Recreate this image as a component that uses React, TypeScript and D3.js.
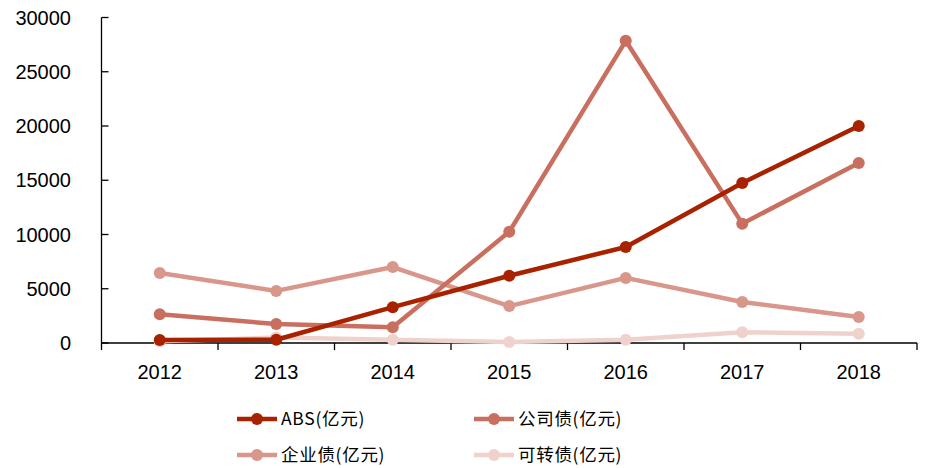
import React from "react";
import * as d3 from "d3";

const years = ["2012", "2013", "2014", "2015", "2016", "2017", "2018"];
const absValues = [280, 300, 3300, 6200, 8850, 14750, 20000];
const corpBondValues = [2650, 1750, 1450, 10250, 27850, 11000, 16600];
const enterpriseBondValues = [6450, 4800, 7000, 3400, 6000, 3780, 2400];
const convertibleValues = [150, 500, 300, 100, 300, 1000, 850];
const yTicks = [0, 5000, 10000, 15000, 20000, 25000, 30000];

const seriesNames = ["ABS(亿元)", "公司债(亿元)", "企业债(亿元)", "可转债(亿元)"];
const seriesColors = ["#a82200", "#c96f60", "#d9978c", "#f0d2cc"];

const W = 933;
const H = 468;
const left = 101.5;
const right = 917;
const top = 17.5;
const bottom = 343;

export default function App() {
  const x = d3.scaleBand<string>().domain(years).range([left, right]);
  const y = d3.scaleLinear().domain([0, 30000]).range([bottom, top]);
  const cx = (i: number) => (x(years[i]) as number) + x.bandwidth() / 2;
  const line = d3
    .line<number>()
    .x((_, i) => cx(i))
    .y((d) => y(d));

  const series = [absValues, corpBondValues, enterpriseBondValues, convertibleValues];
  const drawOrder = [3, 2, 1, 0];
  const cjkFont = "'Noto Sans CJK SC', 'Liberation Sans', sans-serif";
  const numFont = "'Liberation Sans', Arial, sans-serif";

  const legendPos = [
    { lx: 237, ly: 419 },
    { lx: 474, ly: 419 },
    { lx: 237, ly: 455 },
    { lx: 474, ly: 455 },
  ];

  return (
    <svg
      width={W}
      height={H}
      style={{ position: "absolute", left: 0, top: 0, background: "#fff" }}
    >
      {/* y axis */}
      <line x1={left} x2={left} y1={top} y2={bottom} stroke="#000" strokeWidth={1.3} />
      {yTicks.map((t) => (
        <g key={t}>
          <line x1={left} x2={left + 7} y1={y(t)} y2={y(t)} stroke="#000" strokeWidth={1.3} />
          <text
            x={71}
            y={y(t)}
            textAnchor="end"
            dominantBaseline="central"
            fontSize={20}
            fontFamily={numFont}
            fill="#000"
          >
            {t}
          </text>
        </g>
      ))}
      {/* x axis */}
      <line x1={left} x2={right} y1={bottom} y2={bottom} stroke="#000" strokeWidth={1.3} />
      <line x1={left} x2={left} y1={bottom} y2={bottom + 7} stroke="#000" strokeWidth={1.3} />
      {years.map((yr) => (
        <line
          key={"t" + yr}
          x1={(x(yr) as number) + x.bandwidth()}
          x2={(x(yr) as number) + x.bandwidth()}
          y1={bottom}
          y2={bottom + 7}
          stroke="#000"
          strokeWidth={1.3}
        />
      ))}
      {years.map((yr, i) => (
        <text
          key={yr}
          x={cx(i)}
          y={372}
          textAnchor="middle"
          dominantBaseline="central"
          fontSize={20}
          fontFamily={numFont}
          fill="#000"
        >
          {yr}
        </text>
      ))}
      {/* series */}
      {drawOrder.map((si) => (
        <g key={si}>
          <path
            d={line(series[si]) || ""}
            fill="none"
            stroke={seriesColors[si]}
            strokeWidth={4.5}
            strokeLinejoin="round"
          />
          {series[si].map((v, i) => (
            <circle key={i} cx={cx(i)} cy={y(v)} r={6} fill={seriesColors[si]} />
          ))}
        </g>
      ))}
      {/* legend */}
      {seriesNames.map((name, i) => (
        <g key={name}>
          <line
            x1={legendPos[i].lx}
            x2={legendPos[i].lx + 40}
            y1={legendPos[i].ly}
            y2={legendPos[i].ly}
            stroke={seriesColors[i]}
            strokeWidth={4.5}
          />
          <circle cx={legendPos[i].lx + 20} cy={legendPos[i].ly} r={6} fill={seriesColors[i]} />
          <text
            x={legendPos[i].lx + 44}
            y={legendPos[i].ly + 6}
            fontSize={17.5}
            letterSpacing={0.7}
            fontFamily={cjkFont}
            fill="#000"
          >
            {name}
          </text>
        </g>
      ))}
    </svg>
  );
}
